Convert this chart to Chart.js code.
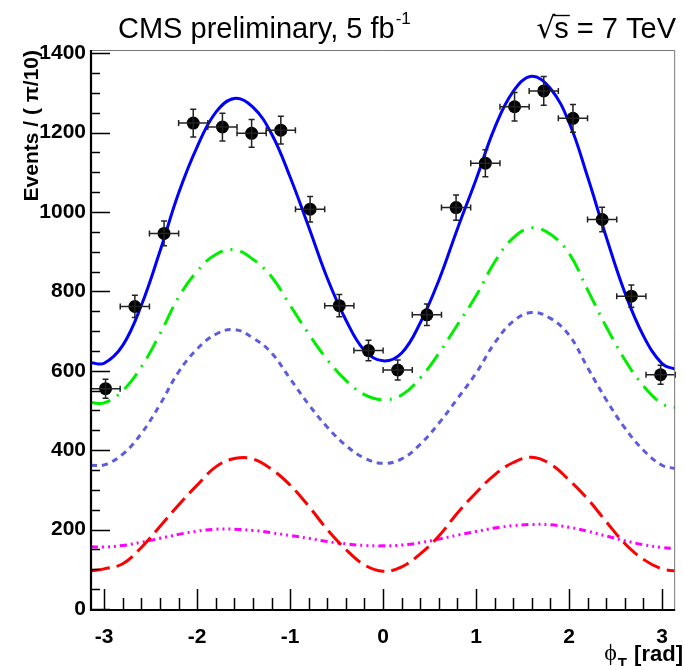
<!DOCTYPE html>
<html><head><meta charset="utf-8">
<script src="https://cdn.jsdelivr.net/npm/chart.js@4.4.1/dist/chart.umd.min.js"></script>
<style>html,body{margin:0;padding:0;background:#fff;}#wrap{width:684px;height:666px;}</style>
</head><body><div id="wrap"><canvas id="c" width="684" height="666"></canvas></div>
<script>
// ---- data ----
const binCenters = [-2.985,-2.670,-2.356,-2.042,-1.728,-1.414,-1.100,-0.785,-0.471,-0.157,0.157,0.471,0.785,1.100,1.414,1.728,2.042,2.356,2.670,2.985];
const dataEvents = [555,762,946,1224,1214,1198,1206,1007,764,651,602,741,1011,1123,1265,1305,1236,981,788,590];
const dataErr    = [24,28,31,35,35,35,35,32,28,26,25,27,32,34,36,36,35,31,28,24];
const binHalfWidth = 0.157;

const curvePhi  = [-3.1416,-3.0,-2.8,-2.6,-2.4,-2.2,-2.0,-1.8,-1.6,-1.4,-1.2,-1.0,-0.8,-0.6,-0.4,-0.2,0,0.2,0.4,0.6,0.8,1.0,1.2,1.4,1.6,1.8,2.0,2.2,2.4,2.6,2.8,3.0,3.1416];
const totalFit  = [620,619,664,765,901,1047,1164,1251,1286,1264,1197,1088,962,833,728,651,625,645,721,828,958,1082,1212,1304,1342,1311,1226,1088,937,797,688,618,604];
const greenComp = [520,519,550,610,693,785,851,893,905,881,837,765,693,628,576,540,527,539,582,644,716,789,874,935,960,944,896,804,711,628,562,517,508];
const violetComp= [362,363,390,442,515,597,655,692,704,683,645,580,515,458,412,380,367,378,415,468,530,594,670,725,747,732,690,608,527,456,400,362,354];
const redComp   = [96,101,114,155,208,262,312,358,379,378,352,312,259,200,150,111,95,106,139,184,242,293,338,369,382,365,325,277,220,165,125,101,96];
const magentaComp=[157,156,160,168,178,188,196,201,201,198,192,185,178,170,164,160,159,161,167,176,186,195,204,210,213,212,206,196,184,172,162,155,152];

const yTickValues = [0,200,400,600,800,1000,1200,1400];
const xTickValues = [-3,-2,-1,0,1,2,3];
const titleLeft = 'CMS preliminary, 5 fb';
const titleLeftSup = '-1';
const titleRight = '= 7 TeV';
const yTitle = 'Events / ( \u03C0/10)';

const FONT = "'Liberation Sans', Arial, Helvetica, sans-serif";

function pts(xs, ys){ return xs.map((x,i)=>({x:x, y:ys[i]})); }
function curve(label, ys, color, dash, order){
  return {type:'line', label, data: pts(curvePhi, ys), borderColor: color, borderWidth: 3,
    borderDash: dash, pointRadius: 0, tension: 0.4, fill: false, order, borderCapStyle:'butt'};
}

const decor = {
  id: 'decor',
  afterDatasetsDraw(chart){
    const ctx = chart.ctx, xs = chart.scales.x, ys = chart.scales.y;
    ctx.save();
    ctx.strokeStyle = '#222'; ctx.lineWidth = 1.5;
    binCenters.forEach((c,i)=>{
      const px = xs.getPixelForValue(c), py = ys.getPixelForValue(dataEvents[i]);
      const x0 = xs.getPixelForValue(c-binHalfWidth), x1 = xs.getPixelForValue(c+binHalfWidth);
      const y0 = ys.getPixelForValue(dataEvents[i]-dataErr[i]), y1 = ys.getPixelForValue(dataEvents[i]+dataErr[i]);
      ctx.beginPath();
      ctx.moveTo(x0,py); ctx.lineTo(x1,py);
      ctx.moveTo(px,y0); ctx.lineTo(px,y1);
      ctx.moveTo(x0,py-3); ctx.lineTo(x0,py+3);
      ctx.moveTo(x1,py-3); ctx.lineTo(x1,py+3);
      ctx.moveTo(px-3,y0); ctx.lineTo(px+3,y0);
      ctx.moveTo(px-3,y1); ctx.lineTo(px+3,y1);
      ctx.stroke();
    });
    ctx.restore();
  },
  afterDraw(chart){
    const ctx = chart.ctx, xs = chart.scales.x, ys = chart.scales.y, a = chart.chartArea;
    ctx.save();
    ctx.strokeStyle = '#777'; ctx.lineWidth = 1;
    ctx.beginPath();
    ctx.moveTo(a.left, a.top+0.5); ctx.lineTo(a.right-0.5, a.top+0.5); ctx.lineTo(a.right-0.5, a.bottom);
    ctx.stroke();
    ctx.strokeStyle = '#000'; ctx.lineWidth = 1.5;
    ctx.beginPath();
    for (let v = 0; v <= 1400; v += 50){
      const py = Math.round(ys.getPixelForValue(v)) + 0.5;
      const len = (v % 200 === 0) ? 19 : 9;
      ctx.moveTo(a.left, py); ctx.lineTo(a.left+len, py);
    }
    for (let k = -15; k <= 15; k++){
      const v = k*0.2;
      const px = Math.round(xs.getPixelForValue(v)) + 0.5;
      const len = (k % 5 === 0) ? 20 : 11;
      ctx.moveTo(px, a.bottom); ctx.lineTo(px, a.bottom-len);
    }
    ctx.stroke();
    ctx.lineWidth = 2.2;
    ctx.beginPath();
    ctx.moveTo(a.left, a.top); ctx.lineTo(a.left, a.bottom+1); ctx.lineTo(a.right, a.bottom+1);
    ctx.stroke();

    // header texts
    ctx.fillStyle = '#000';
    ctx.textBaseline = 'alphabetic';
    ctx.font = '29px ' + FONT;
    ctx.textAlign = 'left';
    const tl = 118;
    ctx.fillText(titleLeft, tl, 38);
    const w1 = ctx.measureText(titleLeft).width;
    ctx.font = '17px ' + FONT;
    ctx.fillText(titleLeftSup, tl + w1 + 1, 24);
    ctx.font = '29px ' + FONT;
    const wr = ctx.measureText(titleRight).width;
    const rEnd = 676;
    const sx = rEnd - wr - ctx.measureText(' ').width;
    const ws = ctx.measureText('s').width;
    ctx.fillText(titleRight, rEnd - wr, 38);
    ctx.fillText('s', sx - ws, 38);
    ctx.font = '30px DejaVu Sans, ' + FONT;
    const wq = ctx.measureText('\u221A').width;
    ctx.fillText('\u221A', sx - ws - wq + 1, 38);
    ctx.lineWidth = 1.4;
    ctx.beginPath(); ctx.moveTo(sx - ws - 1, 15.5); ctx.lineTo(sx + 1, 15.5); ctx.stroke();

    // x-axis title
    ctx.font = 'bold 22px ' + FONT;
    const rad = ' [rad]';
    const wrad = ctx.measureText(rad).width;
    const xEnd = 683;
    ctx.fillText(rad, xEnd - wrad, 661);
    ctx.font = 'bold 15px ' + FONT;
    const wT = ctx.measureText('T').width;
    ctx.fillText('T', xEnd - wrad - wT - 1, 668);
    ctx.font = '24px Liberation Serif, DejaVu Serif, serif';
    const wphi = ctx.measureText('\u03D5').width;
    ctx.fillText('\u03D5', xEnd - wrad - wT - wphi - 2, 660);
    ctx.restore();
  }
};

const chart = new Chart(document.getElementById('c'), {
  type: 'scatter',
  data: { datasets: [
    {type:'scatter', label:'Data', data: pts(binCenters, dataEvents), backgroundColor:'#000', borderColor:'#000',
      pointRadius: 6.5, pointHoverRadius: 6.5, borderWidth: 0, order: 0},
    curve('Total fit', totalFit, '#0000ff', [], 1),
    curve('Component A+B', greenComp, '#00ee00', [20,8,2,8], 2),
    curve('Component A', violetComp, '#5c5cdc', [6,5], 3),
    curve('Component C', redComp, '#ff0000', [19,7], 4),
    curve('Component B', magentaComp, '#ff00ff', [7,4,2,4,2,4,2,4], 5)
  ]},
  options: {
    responsive: false, animation: false, devicePixelRatio: 1,
    layout: { padding: { top: 50, right: 2, left: 0, bottom: 0 } },
    plugins: { legend: {display:false}, tooltip: {enabled:false}, title: {display:false} },
    scales: {
      x: { type:'linear', min: -Math.PI, max: Math.PI,
        grid: {display:false, drawTicks:false}, border: {display:false},
        afterFit: s => { s.height = 57; },
        afterBuildTicks: s => { s.ticks = xTickValues.map(v=>({value:v})); },
        ticks: { padding: 16, color:'#000', font:{family:FONT, size:21, weight:'bold'}, maxRotation:0,
          callback: v => String(v) } },
      y: { type:'linear', min: 0, max: 1408,
        grid: {display:false, drawTicks:false}, border: {display:false},
        afterFit: s => { s.width = 91; },
        afterBuildTicks: s => { s.ticks = yTickValues.map(v=>({value:v})); },
        ticks: { padding: 5, color:'#000', font:{family:FONT, size:21, weight:'bold'}, callback: v => String(v) },
        title: { display:true, text: yTitle, align:'end', color:'#000',
          font:{family:FONT, size:21, weight:'bold'}, padding:{top:20, bottom:0} } }
    }
  },
  plugins: [decor]
});
</script></body></html>
